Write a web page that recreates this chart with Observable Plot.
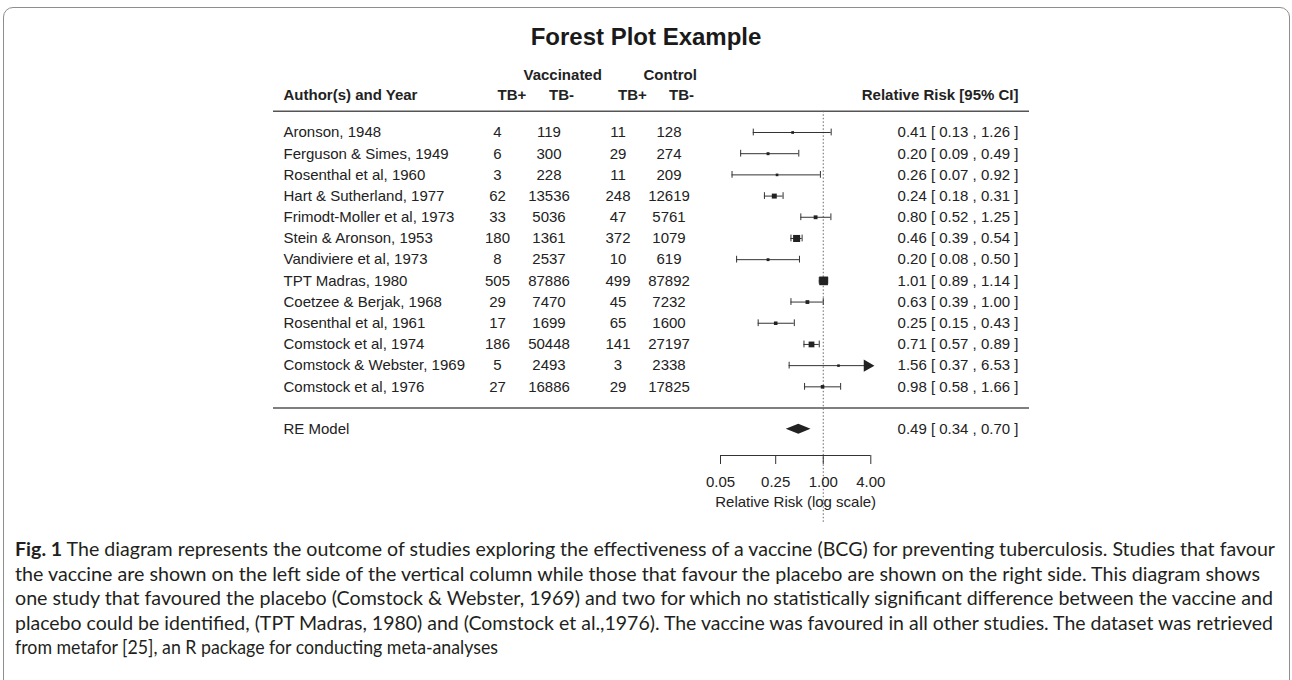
<!DOCTYPE html>
<html><head><meta charset="utf-8">
<script src="https://cdn.jsdelivr.net/npm/d3@7"></script>
<script src="https://cdn.jsdelivr.net/npm/@observablehq/plot@0.6"></script>
<style>
body{margin:0;background:#fff;width:1292px;height:680px;overflow:hidden;position:relative;font-family:"Liberation Sans",Arial,sans-serif;}
#frame{position:absolute;left:3px;top:7px;width:1287px;height:740px;border:1.5px solid #8e8e8e;border-radius:10px;box-sizing:border-box;}
#title{position:absolute;left:0;top:22px;width:1292px;text-align:center;font:bold 24px "Liberation Sans",Arial,sans-serif;line-height:30px;color:#1a1a1a;}
#chart{position:absolute;left:0;top:56px;}
#caption{position:absolute;left:15px;top:537px;font-family:Lato,sans-serif;font-size:19px;line-height:24.5px;color:#231f20;}
#caption div{white-space:nowrap;height:24.5px;}
#caption span.ln{display:inline-block;transform-origin:left center;}
</style></head><body>
<div id="frame"></div>
<div id="title">Forest Plot Example</div>
<div id="chart"></div>
<div id="caption"></div>
<script>
// ---- data ----
const studies = ["Aronson, 1948","Ferguson & Simes, 1949","Rosenthal et al, 1960","Hart & Sutherland, 1977","Frimodt-Moller et al, 1973","Stein & Aronson, 1953","Vandiviere et al, 1973","TPT Madras, 1980","Coetzee & Berjak, 1968","Rosenthal et al, 1961","Comstock et al, 1974","Comstock & Webster, 1969","Comstock et al, 1976"];
const vaccTBpos = [4,6,3,62,33,180,8,505,29,17,186,5,27];
const vaccTBneg = [119,300,228,13536,5036,1361,2537,87886,7470,1699,50448,2493,16886];
const ctrlTBpos = [11,29,11,248,47,372,10,499,45,65,141,3,29];
const ctrlTBneg = [128,274,209,12619,5761,1079,619,87892,7232,1600,27197,2338,17825];
const rr = [0.41,0.20,0.26,0.24,0.80,0.46,0.20,1.01,0.63,0.25,0.71,1.56,0.98];
const lo = [0.13,0.09,0.07,0.18,0.52,0.39,0.08,0.89,0.39,0.15,0.57,0.37,0.58];
const hi = [1.26,0.49,0.92,0.31,1.25,0.54,0.50,1.14,1.00,0.43,0.89,6.53,1.66];
const reLabel = "RE Model";
const reEst = [0.49, 0.34, 0.70];
const xTicks = [0.05, 0.25, 1, 4];
const captionLines = [
  ["Fig. 1", " The diagram represents the outcome of studies exploring the effectiveness of a vaccine (BCG) for preventing tuberculosis. Studies that favour"],
  ["", "the vaccine are shown on the left side of the vertical column while those that favour the placebo are shown on the right side. This diagram shows"],
  ["", "one study that favoured the placebo (Comstock & Webster, 1969) and two for which no statistically significant difference between the vaccine and"],
  ["", "placebo could be identified, (TPT Madras, 1980) and (Comstock et al.,1976). The vaccine was favoured in all other studies. The dataset was retrieved"],
  ["", "from metafor [25], an R package for conducting meta-analyses"]
];

// ---- table built from the arrays ----
const n = studies.length;
const fmt = d3.format(".2f");
const rows = studies.map((s, i) => {
  // precision of the log relative risk, used for the square sizes
  const v = 1/vaccTBpos[i] - 1/(vaccTBpos[i]+vaccTBneg[i]) + 1/ctrlTBpos[i] - 1/(ctrlTBpos[i]+ctrlTBneg[i]);
  return {study: s, y: n - i,
    vp: String(vaccTBpos[i]), vn: String(vaccTBneg[i]), cp: String(ctrlTBpos[i]), cn: String(ctrlTBneg[i]),
    rr: rr[i], lo: lo[i], hi: hi[i], prec: 1/Math.sqrt(v),
    label: `${fmt(rr[i])} [ ${fmt(lo[i])} , ${fmt(hi[i])} ]`};
});
const xMax = xTicks[xTicks.length-1];
const reRow = {y: -1, rr: reEst[0], lo: reEst[1], hi: reEst[2], label: `${fmt(reEst[0])} [ ${fmt(reEst[1])} , ${fmt(reEst[2])} ]`};
const dh = 0.24;
const diamond = [
  {y: reRow.y - dh, x1: reRow.rr, x2: reRow.rr},
  {y: reRow.y, x1: reRow.lo, x2: reRow.hi},
  {y: reRow.y + dh, x1: reRow.rr, x2: reRow.rr}
];

// ---- layout ----
const AXIS_Y = -2.24, HEAD_Y = 14.75, GROUP_Y = 15.69, LINE_TOP = 14, DOT_END = -5.45, CAP = 0.16;
const COL = {author: 10, vp: 224, vn: 275.5, cp: 344.5, cn: 395.5, vacc: 250, ctrl: 370, right: -11};
const ink = "#222";

const txt = (data, opts) => Plot.text(data, {fill: ink, ...opts});
const colMark = (key, dx) => txt(rows, {y: "y", text: key, frameAnchor: "left", dx, textAnchor: "middle"});

const chart = Plot.plot({
  width: 1292, height: 480,
  marginLeft: 273, marginRight: 263, marginTop: 0, marginBottom: 81,
  style: {fontFamily: '"Liberation Sans", Arial, sans-serif', fontSize: "15px", color: ink, background: "transparent", overflow: "visible"},
  x: {type: "log", domain: [0.05, xMax], range: [720, 870.3]},
  y: {domain: [AXIS_Y, 13], range: [399, 76], axis: null},
  r: {type: "linear", domain: d3.extent(rows, d => d.prec), range: [1.45, 4.9]},
  marks: [
    Plot.ruleY([LINE_TOP, 0], {stroke: "#555", strokeWidth: 1.4}),
    Plot.ruleX([1], {y1: LINE_TOP, y2: DOT_END, stroke: "#666", strokeWidth: 1, strokeDasharray: "1.5,2"}),
    // confidence intervals
    Plot.ruleY(rows, {y: "y", x1: "lo", x2: d => Math.min(d.hi, xMax), stroke: "#333", strokeWidth: 1}),
    Plot.ruleX(rows, {x: "lo", y1: d => d.y - CAP, y2: d => d.y + CAP, stroke: "#333"}),
    Plot.ruleX(rows.filter(d => d.hi <= xMax), {x: "hi", y1: d => d.y - CAP, y2: d => d.y + CAP, stroke: "#333"}),
    Plot.dot(rows.filter(d => d.hi > xMax), {x: () => xMax, y: "y", symbol: "triangle", rotate: 90, r: 4.6, fill: ink, dx: -3.5}),
    Plot.dot(rows, {x: "rr", y: "y", symbol: "square", r: "prec", fill: ink}),
    Plot.areaX(diamond, {y: "y", x1: "x1", x2: "x2", fill: ink, curve: "linear"}),
    // table columns
    txt(rows, {y: "y", text: "study", frameAnchor: "left", dx: COL.author, textAnchor: "start"}),
    colMark("vp", COL.vp), colMark("vn", COL.vn), colMark("cp", COL.cp), colMark("cn", COL.cn),
    txt(rows, {y: "y", text: "label", frameAnchor: "right", dx: COL.right, textAnchor: "end"}),
    txt([reRow], {y: "y", text: () => reLabel, frameAnchor: "left", dx: COL.author, textAnchor: "start"}),
    txt([reRow], {y: "y", text: "label", frameAnchor: "right", dx: COL.right, textAnchor: "end"}),
    // headers
    txt(["Author(s) and Year"], {y: () => HEAD_Y, frameAnchor: "left", dx: COL.author, textAnchor: "start", fontWeight: "bold"}),
    txt(["Relative Risk [95% CI]"], {y: () => HEAD_Y, frameAnchor: "right", dx: COL.right, textAnchor: "end", fontWeight: "bold"}),
    txt(["TB+"], {y: () => HEAD_Y, frameAnchor: "left", dx: COL.vp, fontWeight: "bold"}),
    txt(["TB-"], {y: () => HEAD_Y, frameAnchor: "left", dx: COL.vn, fontWeight: "bold"}),
    txt(["TB+"], {y: () => HEAD_Y, frameAnchor: "left", dx: COL.cp, fontWeight: "bold"}),
    txt(["TB-"], {y: () => HEAD_Y, frameAnchor: "left", dx: COL.cn, fontWeight: "bold"}),
    txt(["Vaccinated"], {y: () => GROUP_Y, frameAnchor: "left", dx: COL.vacc, fontWeight: "bold"}),
    txt(["Control"], {y: () => GROUP_Y, frameAnchor: "left", dx: COL.ctrl, fontWeight: "bold"}),
    // axis
    Plot.ruleY([AXIS_Y], {x1: xTicks[0], x2: xMax, stroke: "#333"}),
    Plot.axisX({ticks: xTicks, tickFormat: fmt, tickSize: 9, tickPadding: 12, label: null, fontSize: 15, stroke: "#333", fill: ink}),
    txt(["Relative Risk (log scale)"], {x: () => Math.sqrt(xTicks[0] * xMax), y: () => AXIS_Y, dy: 47})
  ]
});
document.getElementById("chart").appendChild(chart);

// ---- caption ----
const cap = document.getElementById("caption");
const targets = [1260, 1245, 1258, 1258, 483];
captionLines.forEach(([b, t]) => {
  const div = document.createElement("div");
  const span = document.createElement("span");
  span.className = "ln";
  if (b) { const s = document.createElement("b"); s.textContent = b; span.appendChild(s); }
  span.appendChild(document.createTextNode(t));
  div.appendChild(span);
  cap.appendChild(div);
});
function fit() {
  cap.querySelectorAll("span.ln").forEach((s, i) => {
    s.style.transform = "none";
    const w = s.getBoundingClientRect().width;
    s.style.transform = `scaleX(${targets[i] / w})`;
  });
}
fit();
if (document.fonts && document.fonts.ready) document.fonts.ready.then(fit);
</script>
</body></html>
